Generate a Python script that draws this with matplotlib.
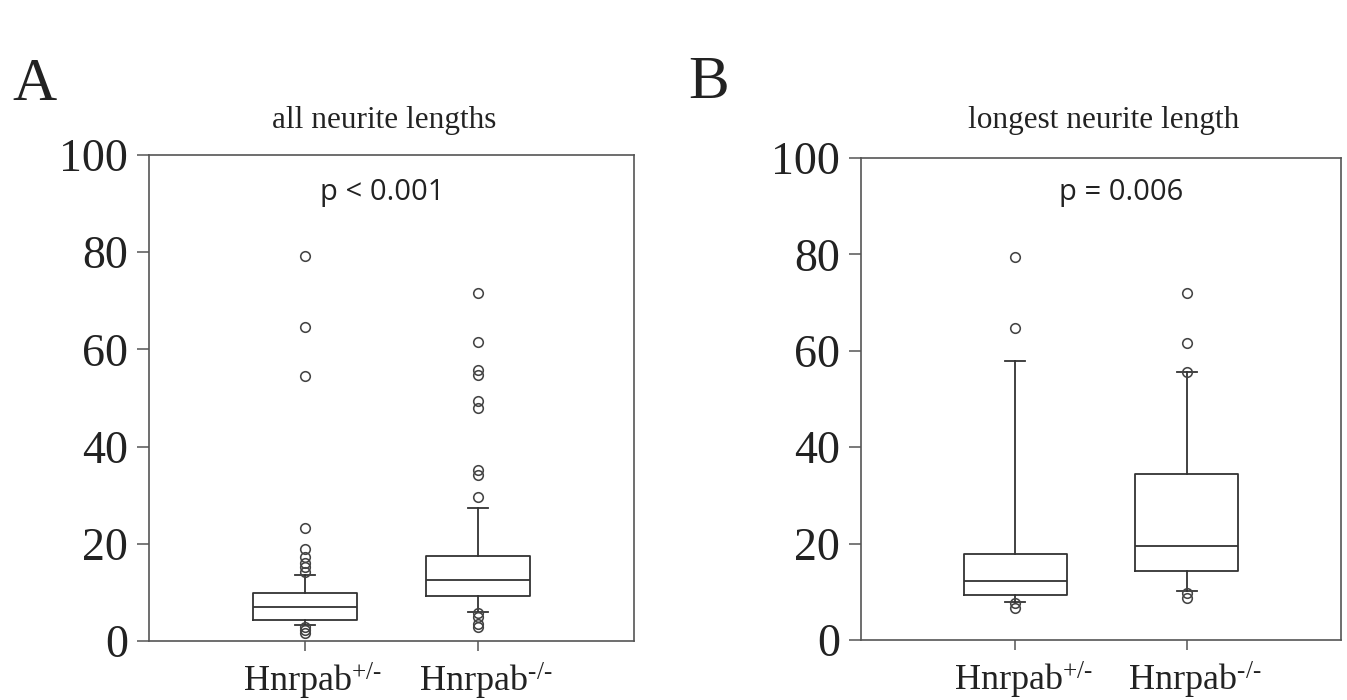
import matplotlib
matplotlib.use("Agg")
import matplotlib.pyplot as plt
import matplotlib.transforms as mtransforms

plt.rcParams['mathtext.fontset'] = 'custom'
plt.rcParams['mathtext.rm'] = 'Liberation Serif'
plt.rcParams['mathtext.it'] = 'Liberation Serif:italic'
plt.rcParams['mathtext.bf'] = 'Liberation Serif:bold'

# ---------------- data ----------------
groups = [r'Hnrpab$^{\text{+/-}}$', r'Hnrpab$^{\text{-/-}}$']
y_ticks = [0, 20, 40, 60, 80, 100]

# Panel A: all neurite lengths
a_q1 = [4.3, 9.3]
a_med = [6.9, 12.5]
a_q3 = [9.9, 17.4]
a_whislo = [3.3, 6.0]
a_whishi = [13.6, 27.4]
a_fliers = [
    [79.2, 64.7, 54.6, 23.3, 18.9, 17.3, 16.0, 15.3, 14.3, 2.8, 2.2, 1.7],
    [71.7, 61.5, 55.8, 54.7, 49.4, 47.9, 35.2, 34.2, 29.6, 5.7, 5.0, 3.6, 2.8],
]
a_title = 'all neurite lengths'
a_p = 'p < 0.001'

# Panel B: longest neurite length
b_q1 = [9.4, 14.3]
b_med = [12.3, 19.4]
b_q3 = [17.8, 34.4]
b_whislo = [7.95, 10.2]
b_whishi = [57.9, 55.6]
b_fliers = [
    [79.4, 64.8, 7.6, 6.7],
    [71.9, 61.6, 55.6, 9.8, 8.8],
]
b_title = 'longest neurite length'
b_p = 'p = 0.006'

# ---------------- figure ----------------
W, H = 1347, 700
fig = plt.figure(figsize=(W / 100, H / 100), dpi=100)
fig.patch.set_facecolor('white')

axA = fig.add_axes([149 / W, 1 - 641 / H, 485 / W, 486 / H])
axB = fig.add_axes([861 / W, 1 - 640 / H, 480 / W, 482 / H])

line_col = '#333333'
spine_col = '#555555'
text_col = '#222222'
serif = 'Liberation Serif'


def make_stats(q1, med, q3, lo, hi, fl):
    out = []
    for i in range(len(q1)):
        out.append(dict(q1=q1[i], med=med[i], q3=q3[i], whislo=lo[i],
                        whishi=hi[i], fliers=fl[i]))
    return out


def draw(ax, stats):
    lp = dict(color=line_col, linewidth=1.3)
    ax.bxp(stats, positions=[1, 2], widths=0.6, capwidths=0.116,
           showfliers=True,
           boxprops=lp, whiskerprops=lp, capprops=lp,
           medianprops=dict(color=line_col, linewidth=1.3),
           flierprops=dict(marker='o', markerfacecolor='none',
                           markeredgecolor='#444444', markersize=6.9,
                           markeredgewidth=1.15, linestyle='none'))
    ax.set_xlim(0.1, 2.9)
    ax.set_ylim(0, 100)
    ax.set_yticks(y_ticks)
    ax.set_yticklabels([str(t) for t in y_ticks], fontsize=33,
                       family=serif, color=text_col)
    ax.set_xticks([1, 2])
    ax.set_xticklabels(groups, fontsize=26, family=serif, color=text_col)
    ax.tick_params(axis='y', direction='out', length=8.5, width=1.1,
                   pad=6.5, color=spine_col)
    ax.tick_params(axis='x', direction='out', length=7, width=1.1,
                   pad=7, color=spine_col)
    off = mtransforms.ScaledTranslation(8 / 100, 0, fig.dpi_scale_trans)
    for lab in ax.get_xticklabels():
        lab.set_transform(lab.get_transform() + off)
    for s in ax.spines.values():
        s.set_color(spine_col)
        s.set_linewidth(1.2)


draw(axA, make_stats(a_q1, a_med, a_q3, a_whislo, a_whishi, a_fliers))
draw(axB, make_stats(b_q1, b_med, b_q3, b_whislo, b_whishi, b_fliers))

# panel letters
fig.text(12 / W, 1 - 100 / H, 'A', fontsize=44, family=serif,
         color=text_col, ha='left', va='baseline')
fig.text(688 / W, 1 - 98 / H, 'B', fontsize=44, family=serif,
         color=text_col, ha='left', va='baseline')

# titles
fig.text(384 / W, 1 - 128 / H, a_title, fontsize=22.5, family=serif,
         color=text_col, ha='center', va='baseline')
fig.text(1104 / W, 1 - 128 / H, b_title, fontsize=22.5, family=serif,
         color=text_col, ha='center', va='baseline')

# p-values
fig.text(382 / W, 1 - 200 / H, a_p, fontsize=21, family='Open Sans',
         color=text_col, ha='center', va='baseline')
fig.text(1121 / W, 1 - 200 / H, b_p, fontsize=21, family='Open Sans',
         color=text_col, ha='center', va='baseline')

fig.savefig('out.png', dpi=100, facecolor='white')
